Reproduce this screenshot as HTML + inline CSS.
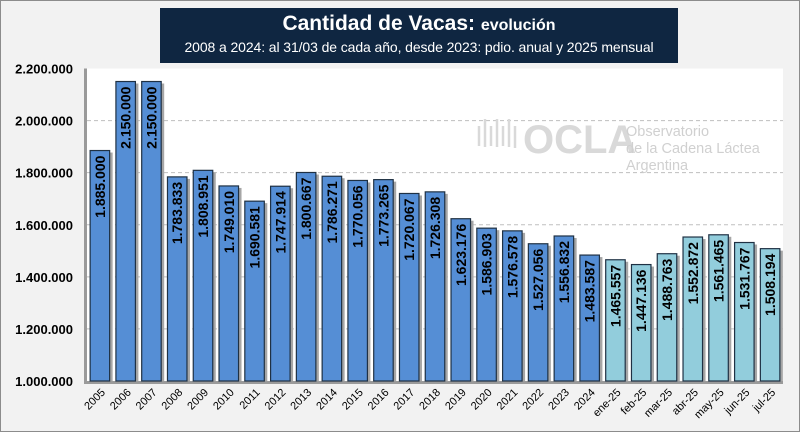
<!DOCTYPE html>
<html><head><meta charset="utf-8"><style>
body{margin:0;background:#fff}
#wrap{position:relative;width:798px;height:430px;border:1px solid #8c8c8c;background:#f2f2f2;font-family:"Liberation Sans",sans-serif;overflow:hidden}
#title{position:absolute;left:159px;top:7px;width:518px;height:55px;background:#0f2641;color:#fff;text-align:center;white-space:nowrap}
#t1{font-size:21px;font-weight:bold;margin-top:4px}
#t1 span{font-size:16px}
#t2{font-size:14px;margin-top:3px;letter-spacing:-0.1px}
</style></head><body>
<div id="wrap">
<svg id="chart" width="798" height="430" style="position:absolute;left:0;top:0"></svg>
<div id="title">
<div id="t1">Cantidad de Vacas: <span>evolución</span></div>
<div id="t2">2008 a 2024: al 31/03 de cada año, desde 2023: pdio. anual y 2025 mensual</div>
</div>
</div>
<script>
const categories=["2005","2006","2007","2008","2009","2010","2011","2012","2013","2014","2015","2016","2017","2018","2019","2020","2021","2022","2023","2024","ene-25","feb-25","mar-25","abr-25","may-25","jun-25","jul-25"];
const values=[1885000,2150000,2150000,1783833,1808951,1749010,1690581,1747914,1800667,1786271,1770056,1773265,1720067,1726308,1623176,1586903,1576578,1527056,1556832,1483587,1465557,1447136,1488763,1552872,1561465,1531767,1508194];
const monthly=[false,false,false,false,false,false,false,false,false,false,false,false,false,false,false,false,false,false,false,false,true,true,true,true,true,true,true];
const yTicks=[1000000,1200000,1400000,1600000,1800000,2000000,2200000];
const NS="http://www.w3.org/2000/svg";
const svg=document.getElementById('chart');
const X0=86,X1=782,Y0=380,Y1=67.5,YMIN=1000000,YMAX=2200000;
const step=(X1-X0)/categories.length;
const y=v=>Y0-(v-YMIN)/(YMAX-YMIN)*(Y0-Y1);
const x=i=>X0+step*(i+0.5);
const fmt=v=>v.toLocaleString('de-DE');
function mk(t,a){const e=document.createElementNS(NS,t);for(const k in a)e.setAttribute(k,a[k]);svg.appendChild(e);return e;}
const pa=mk('rect',{x:X0,y:Y1,width:X1-X0,height:Y0-Y1,fill:'#fff'});


mk('rect',{x:X0-3,y:Y1,width:3,height:Y0-Y1+3,fill:'#9a9a9a'});
mk('rect',{x:X0-3,y:Y0,width:X1-X0+3,height:3,fill:'#9a9a9a'});
yTicks.forEach(t=>{
  if(t>YMIN&&t<YMAX){const g=mk('line',{x1:X0,x2:X1,y1:y(t),y2:y(t),stroke:'#bfbfbf','stroke-dasharray':'4,3'});
  
  }
  const l=mk('text',{x:72,y:y(t)+5,'text-anchor':'end','font-size':'13','font-weight':'bold',fill:'#000'});
  l.textContent=fmt(t);
  
  
});
categories.forEach((c,i)=>{
  const bw=19.5,cx=x(i),top=y(values[i]);
  mk('rect',{x:cx-bw/2+3,y:top+2,width:bw,height:Y0-top-2,fill:'#a6a6a6'});
  const b=mk('rect',{x:cx-bw/2,y:top,width:bw,height:Y0-top,fill:monthly[i]?'#92cddc':'#558ed5',stroke:'#1f3144','stroke-width':'1.2'});
  
  
  const tx=cx+5,ty=top+5;
  const v=mk('text',{x:tx,y:ty,transform:`rotate(-90 ${tx} ${ty})`,'text-anchor':'end','font-size':'14','font-weight':'bold',fill:'#000'});
  v.textContent=fmt(values[i]);
  
  
  const lx=cx+6,ly=Y0+12;
  const l=mk('text',{x:lx,y:ly,transform:`rotate(-45 ${lx} ${ly})`,'text-anchor':'end','font-size':'11',fill:'#000'});
  l.textContent=c;
  
  
});
const wm=mk('text',{x:522,y:152,'font-size':'40','font-weight':'bold',fill:'#d9d9d9'});wm.textContent='OCLA';


[['Observatorio',135],['de la Cadena Láctea',152],['Argentina',169]].forEach(([s,yy])=>{const t=mk('text',{x:625,y:yy,'font-size':'14.5',fill:'#d0d0d0'});t.textContent=s;

});
mk('path',{d:'M478 125 v20 M484 118 v28 M490 125 v20 M496 118 v28 M502 125 v20 M508 118 v28 M514 125 v22',stroke:'#d9d9d9','stroke-width':'2.5',fill:'none'});
</script>
</body></html>
